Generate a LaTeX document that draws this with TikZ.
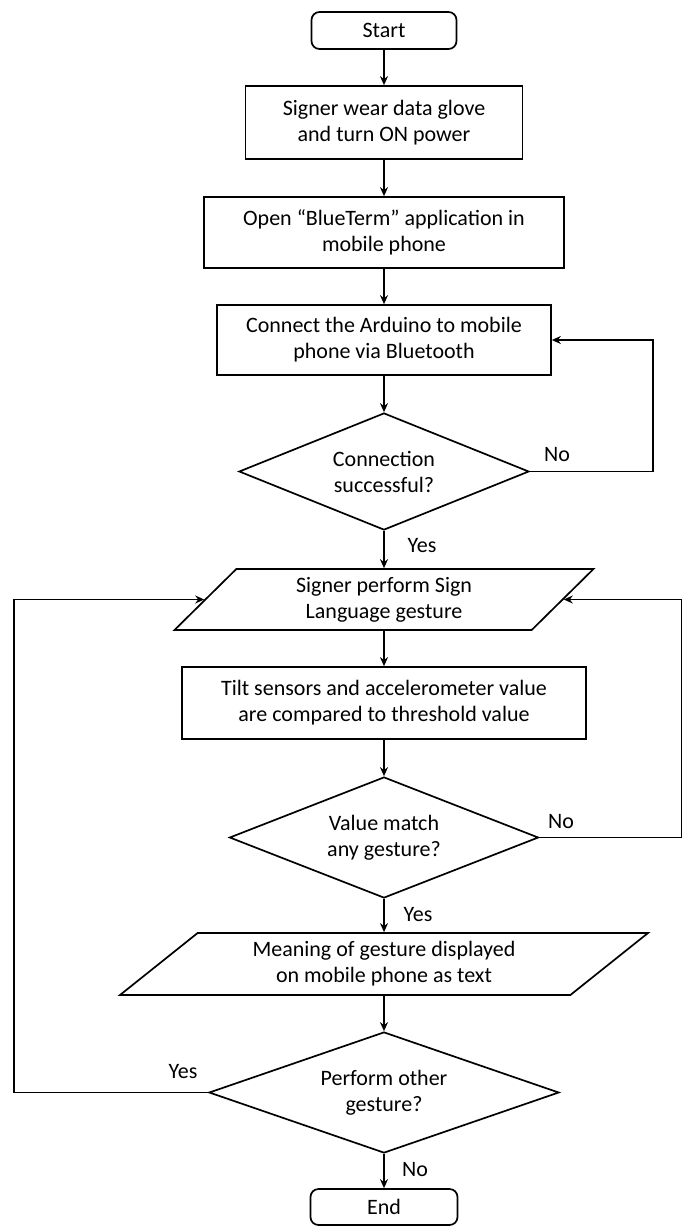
\documentclass[tikz,border=0pt]{standalone}
\usepackage{fontspec}
\setmainfont{Carlito}
\usetikzlibrary{shapes.geometric, arrows.meta}

\begin{document}
\begin{tikzpicture}[x=1pt, y=-1pt]
    % ===================================
    % 設定
    % ===================================
    \def\cx{384}   % 縦の流れの x 座標
    \def\lw{1.7pt} % 線の太さ

    \tikzset{
        every node/.style={font=\fontsize{22}{26}\selectfont},
        box/.style={draw, rectangle, line width=\lw, align=center, inner sep=0pt},
        term/.style={box, rounded corners=8pt},
        cond/.style={draw, diamond, aspect=2.5, line width=\lw, align=center, inner sep=0pt},
        io/.style={draw, trapezium, trapezium stretches body, line width=\lw, align=center, inner sep=0pt},
        lbl/.style={inner sep=0pt},
        flow/.style={-{Stealth[length=9pt, width=8pt]}, line width=\lw}
    }
    % ===================================

    \useasboundingbox (0,0) rectangle (682,1227);

    % 1. 上から順に箱を配置
    \node[term, minimum width=145, minimum height=37] (start) at (\cx, 30.5) {Start};
    \node[box, minimum width=277, minimum height=73] (b1) at (\cx, 122.5) {Signer wear data glove\\and turn ON power};
    \node[box, minimum width=360, minimum height=71] (b2) at (\cx, 232.5) {Open “BlueTerm” application in\\mobile phone};
    \node[box, minimum width=334, minimum height=70] (b3) at (\cx, 340) {Connect the Arduino to mobile\\phone via Bluetooth};

    % 判定 (接続)
    \node[cond, minimum width=290, minimum height=117] (d1) at (\cx, 471.5) {Connection\\successful?};

    \node[io, trapezium left angle=36, trapezium right angle=144, minimum width=419, minimum height=61] (p1) at (\cx, 599.5) {Signer perform Sign\\Language gesture};
    \node[box, minimum width=404, minimum height=72] (b4) at (\cx, 703) {Tilt sensors and accelerometer value\\are compared to threshold value};

    % 判定 (ジェスチャー)
    \node[cond, minimum width=309, minimum height=121] (d2) at (\cx, 837.5) {Value match\\any gesture?};

    \node[io, trapezium left angle=30, trapezium right angle=150, minimum width=528, minimum height=62] (p2) at (\cx, 964) {Meaning of gesture displayed\\on mobile phone as text};

    % 判定 (続けるか)
    \node[cond, minimum width=350, minimum height=121] (d3) at (\cx, 1092.5) {Perform other\\gesture?};
    \node[term, minimum width=147, minimum height=36] (stop) at (\cx, 1207) {End};


    % 2. 縦の矢印
    \foreach \a/\b in {start/b1, b1/b2, b2/b3, b3/d1, d1/p1, p1/b4, b4/d2, d2/p2, p2/d3, d3/stop} {
        \draw[flow] (\a) -- (\b);
    }

    % 3. 戻りの矢印
    \draw[flow] (d1.east) -- ++(123,0) |- (b3.east);
    \draw[flow] (d2.east) -- ++(142,0) |- (p1.east);
    \draw[flow] (d3.west) -- ++(-194,0) |- (p1.west);

    % ラベル
    \node[lbl] (no1) at (557,455) {No};
    \node[lbl] (yes1) at (422,546) {Yes};
    \node[lbl] (no2) at (561,822) {No};
    \node[lbl] (yes2) at (418,915) {Yes};
    \node[lbl] (yes3) at (183,1072) {Yes};
    \node[lbl] (no3) at (415,1170) {No};

\end{tikzpicture}
\end{document}
